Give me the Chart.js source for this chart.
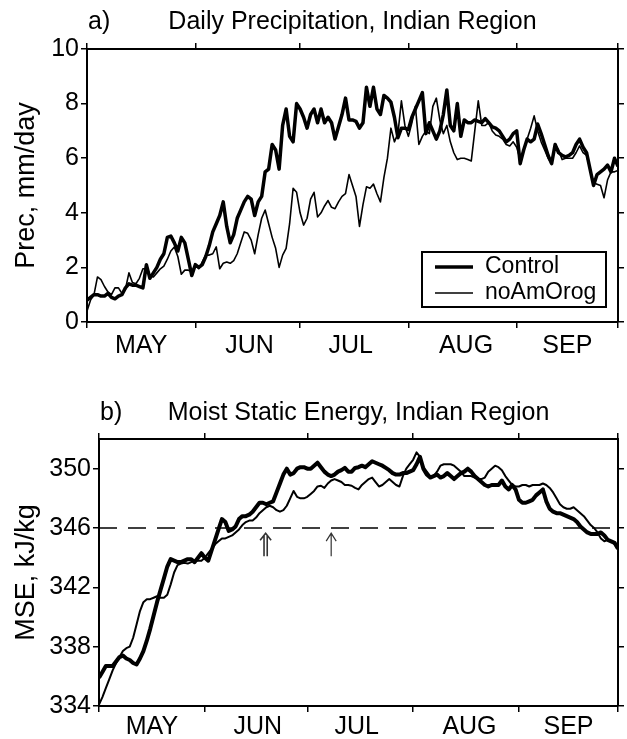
<!DOCTYPE html>
<html>
<head>
<meta charset="utf-8">
<script src="https://cdn.jsdelivr.net/npm/chart.js@4.4.1/dist/chart.umd.min.js"></script>
<style>
  body { margin: 0; background: #fff; }
  canvas { display: block; }
</style>
</head>
<body>
<canvas id="precChart" width="627" height="370"></canvas>
<canvas id="mseChart" width="627" height="369"></canvas>
<script>
// day index: 0 = 1 May ... 152 = 30 Sep
const days = Array.from({ length: 153 }, (_, i) => i);
const months = ['MAY', 'JUN', 'JUL', 'AUG', 'SEP'];
// label positions chosen so the offset tick marks fall on the month boundaries
const monthLabelDays = [15.5, 46.5, 75.5, 108.5, 137.5];
const precTicks = [0, 2, 4, 6, 8, 10];
const mseTicks = [334, 338, 342, 346, 350];

const precControl = [
  0.8, 0.9, 1.0, 1.0, 0.95, 0.95, 1.05, 0.9, 0.85, 0.95,
  1.0, 1.25, 1.4, 1.35, 1.35, 1.3, 1.25, 2.1, 1.6, 1.8,
  2.0, 2.3, 2.5, 3.1, 3.15, 2.9, 2.6, 3.1, 2.9, 2.3,
  1.7, 2.1, 2.0, 2.1, 2.4, 2.8, 3.3, 3.6, 3.9, 4.4,
  3.5, 2.9, 3.2, 3.8, 4.1, 4.4, 4.6, 4.5, 3.9, 4.4,
  4.6, 5.5, 5.6, 6.5, 6.3, 5.6, 7.2, 7.8, 6.8, 6.6,
  8.0, 7.8, 7.5, 7.1, 7.6, 7.8, 7.3, 7.8, 7.3, 7.5,
  7.3, 6.7, 7.15, 7.6, 8.2, 7.4, 7.4, 7.35, 7.1, 7.3,
  8.6, 7.9, 8.6, 7.8, 7.6, 8.3, 8.2, 8.05, 7.5, 6.75,
  7.1, 7.1, 7.05, 7.5, 7.8, 8.1, 8.4, 6.9, 7.3, 7.0,
  6.7, 7.0, 7.6, 8.5, 7.2, 7.0, 8.0, 6.8, 7.4, 7.3,
  7.3, 7.4, 7.35, 7.3, 7.45, 7.3, 7.15, 7.1, 7.0, 6.8,
  6.6, 6.7, 6.9, 7.0, 5.8, 6.3, 6.7, 6.6, 6.7, 7.25,
  6.9, 6.5, 6.1, 5.8, 6.5, 6.2, 6.1, 6.05, 6.1, 6.2,
  6.5, 6.7, 6.4, 6.2, 5.6, 5.0, 5.4, 5.5, 5.6, 5.75,
  5.5, 6.0, 5.7
];
const precNoAmOrog = [
  0.4, 0.8, 1.0, 1.65, 1.55, 1.3, 1.1, 1.0, 1.25, 1.25,
  1.05, 1.2, 1.8, 1.45, 1.4, 1.6, 1.95, 1.95, 1.7, 1.65,
  1.8, 1.95, 2.05, 2.3, 2.6, 2.75, 2.4, 1.75, 1.9, 1.9,
  1.85, 2.1, 1.95, 2.2, 2.45, 2.45, 2.5, 2.75, 1.95, 2.15,
  2.2, 2.15, 2.25, 2.5, 2.9, 3.3, 3.25, 3.0, 2.5, 3.2,
  3.8, 4.1, 3.6, 3.1, 2.7, 2.0, 2.45, 2.7, 3.6, 4.9,
  4.75, 4.0, 3.55, 3.8, 4.5, 4.75, 3.85, 4.0, 4.25, 4.45,
  4.2, 4.15, 4.4, 4.6, 4.7, 5.4, 5.0, 4.6, 3.5, 4.3,
  4.95, 4.9, 5.05, 4.7, 4.4, 5.3, 6.0, 7.1, 6.6, 6.9,
  8.1, 7.2, 6.8, 7.3, 7.9, 6.5, 6.8, 7.0, 6.9, 7.9,
  8.2, 7.4, 6.9, 7.2, 6.6, 6.2, 5.95, 6.0, 6.0, 5.95,
  5.9, 7.0, 8.1, 7.2, 7.2, 7.3, 7.0, 6.85, 6.8, 6.7,
  6.5, 6.45, 6.6, 6.4, 5.95, 6.3, 6.7, 7.1, 7.55, 7.0,
  6.6, 6.3, 6.0, 5.8, 6.5, 6.3, 5.95, 6.0, 6.0, 6.0,
  6.2, 6.45, 6.2, 6.1, 5.6, 5.1, 5.05, 5.0, 4.55, 5.2,
  5.5, 5.5, 5.55
];

const mseControl = [
  335.9, 336.3, 336.7, 336.7, 336.7, 337.0, 337.3, 337.4, 337.2, 337.1,
  336.9, 336.8, 337.2, 337.7, 338.4, 339.2, 340.1, 341.0, 341.8, 342.6,
  343.4, 343.9, 343.8, 343.7, 343.7, 343.8, 343.9, 343.9, 343.7, 344.0,
  344.3, 344.0, 343.8, 344.5, 345.2, 345.9, 346.6, 346.4, 345.8, 345.9,
  346.1, 346.6, 346.8, 346.8, 346.9, 347.1, 347.4, 347.7, 347.7, 347.6,
  347.7, 347.8, 348.4, 349.0, 349.6, 350.0, 349.6, 349.7, 350.0, 350.1,
  350.1, 350.0, 350.0, 350.2, 350.4, 350.1, 349.8, 349.6, 349.5, 349.6,
  349.8, 349.9, 350.05, 349.8, 349.8, 350.05, 350.1, 350.2, 350.1, 350.3,
  350.5, 350.4, 350.3, 350.2, 350.05, 349.9, 349.7, 349.6, 349.6, 349.7,
  349.7, 349.8, 349.9, 350.3, 350.8, 350.0, 349.6, 349.4, 349.5, 349.6,
  349.4, 349.5, 349.7, 349.5, 349.3, 349.5, 349.7, 349.8, 350.0, 349.8,
  349.5, 349.3, 349.1, 348.9, 348.8, 348.9, 348.9, 348.9, 349.2, 348.8,
  348.6, 348.9, 348.6, 347.9, 347.7, 347.7, 347.8, 347.9, 348.2, 348.4,
  348.6, 347.8, 347.3, 347.1, 347.0, 347.0, 346.9, 346.8, 346.7, 346.6,
  346.4, 346.1, 345.9, 345.7, 345.6, 345.6, 345.6, 345.7, 345.5, 345.2,
  345.1, 345.0, 344.6
];
const mseNoAmOrog = [
  334.1, 334.6, 335.2, 335.8, 336.4, 336.9, 337.3, 337.7, 337.9, 338.0,
  338.6, 339.5, 340.4, 341.0, 341.2, 341.2, 341.3, 341.4, 341.3, 341.3,
  341.5, 342.2, 343.0, 343.5, 343.6, 343.65, 343.6, 343.7, 343.8, 343.8,
  343.8, 344.0, 344.3, 344.6, 344.9, 345.1, 345.3, 345.3, 345.4, 345.5,
  345.7, 345.9, 346.2, 346.4, 346.5, 346.5, 346.7, 347.0, 347.2, 347.4,
  347.5, 347.4, 347.2, 347.1, 347.2, 347.5, 348.0, 348.5, 348.1, 348.0,
  348.0, 348.1, 348.3, 348.5, 348.8, 348.85, 348.7, 349.0, 349.2, 349.3,
  349.2, 349.1, 348.9, 348.9, 348.85, 348.7, 348.6, 348.9, 349.1, 349.3,
  349.4, 349.1, 348.8, 348.9, 349.1, 349.3, 349.1, 348.9, 348.8, 349.5,
  350.0, 350.3, 350.6, 351.1, 350.8, 350.1, 349.8, 349.5, 349.5, 349.8,
  350.2, 350.3, 350.3, 350.3, 350.2, 350.0, 349.8, 349.5, 349.5, 349.5,
  349.4, 349.3, 349.3, 349.4, 349.8, 350.0, 350.2, 350.1, 349.9, 349.5,
  349.2, 348.9, 348.8, 348.8, 348.9, 348.9, 348.8, 348.9, 348.9, 348.9,
  349.0, 348.9, 348.7, 348.4, 348.0, 347.6, 347.4, 347.3, 347.3, 347.4,
  347.2, 347.0, 346.8, 346.5, 346.2, 346.0, 345.7, 345.3, 345.1, 345.2,
  345.1, 344.9, 344.6
];
const mseThreshold = 346;
// onset arrows: day of crossing (Control, noAmOrog) and arrow span in kJ/kg
const onsetDays = [48.8, 68.0];
const arrowSpan = [344.1, 345.65];

const FONT = "'Liberation Sans', Arial, Helvetica, sans-serif";
Chart.defaults.font.family = FONT;
Chart.defaults.color = '#000';

const panelTitle = {
  id: 'panelTitle',
  afterDraw(chart, args, opts) {
    const { ctx, chartArea } = chart;
    const y = chartArea.top - opts.gap;
    ctx.save();
    ctx.fillStyle = '#000';
    ctx.font = '25px ' + FONT;
    ctx.textBaseline = 'alphabetic';
    ctx.textAlign = 'left';
    ctx.fillText(opts.tag, chartArea.left + 1, y);
    ctx.textAlign = 'center';
    ctx.fillText(opts.text, (chartArea.left + chartArea.right) / 2, y);
    ctx.restore();
  }
};

const boxLegend = {
  id: 'boxLegend',
  afterDatasetsDraw(chart) {
    const { ctx, chartArea } = chart;
    const w = 184, h = 55;
    const x0 = chartArea.right - 12 - w;
    const y0 = chartArea.bottom - 15 - h;
    ctx.save();
    ctx.fillStyle = '#fff';
    ctx.fillRect(x0, y0, w, h);
    ctx.strokeStyle = '#000';
    ctx.lineWidth = 2;
    ctx.strokeRect(x0, y0, w, h);
    ctx.font = '23px ' + FONT;
    ctx.textBaseline = 'middle';
    ctx.fillStyle = '#000';
    chart.data.datasets.forEach((ds, i) => {
      const y = y0 + 15 + i * 26;
      ctx.beginPath();
      ctx.lineWidth = ds.borderWidth;
      ctx.moveTo(x0 + 13, y);
      ctx.lineTo(x0 + 51, y);
      ctx.stroke();
      ctx.fillText(ds.label, x0 + 63, y);
    });
    ctx.restore();
  }
};

const onsetArrows = {
  id: 'onsetArrows',
  afterDatasetsDraw(chart) {
    const { ctx, scales: { x, y } } = chart;
    const yb = y.getPixelForValue(arrowSpan[0]);
    const yt = y.getPixelForValue(arrowSpan[1]);
    ctx.save();
    ctx.strokeStyle = '#333';
    onsetDays.forEach((d, i) => {
      const px = x.getPixelForValue(d);
      const double = i === 0;
      ctx.lineWidth = double ? 1.6 : 1.2;
      ctx.beginPath();
      if (double) {
        ctx.moveTo(px - 1.6, yb); ctx.lineTo(px - 1.6, yt + 2);
        ctx.moveTo(px + 1.6, yb); ctx.lineTo(px + 1.6, yt + 2);
        ctx.moveTo(px - 5.5, yt + 7); ctx.lineTo(px, yt); ctx.lineTo(px + 5.5, yt + 7);
      } else {
        ctx.moveTo(px, yb); ctx.lineTo(px, yt);
        ctx.moveTo(px - 5, yt + 8); ctx.lineTo(px, yt); ctx.lineTo(px + 5, yt + 8);
      }
      ctx.stroke();
    });
    ctx.restore();
  }
};

function monthTicks(axis) {
  axis.ticks = monthLabelDays.map(v => ({ value: v }));
}

function makeScales(o) {
  const frame = { display: true, color: '#000', width: 2 };
  const marks = { drawOnChartArea: false, color: '#000', tickLength: 6, lineWidth: 1.5 };
  const valueTicks = axis => { axis.ticks = o.ticks.map(v => ({ value: v })); };
  return {
    x: {
      type: 'linear', position: 'bottom', min: days[0], max: days[days.length - 1],
      afterBuildTicks: monthTicks,
      grid: { ...marks, offset: true },
      border: frame,
      ticks: { font: { size: 25 }, padding: o.xPad, maxRotation: 0, autoSkip: false,
               callback: (v, i) => months[i] },
      afterFit: s => { s.height = o.bottomH; }
    },
    xTop: {
      type: 'linear', position: 'top', min: days[0], max: days[days.length - 1],
      afterBuildTicks: monthTicks,
      grid: { ...marks, offset: true },
      border: frame,
      ticks: { display: false },
      afterFit: s => { s.height = o.topH; }
    },
    y: {
      position: 'left', min: o.min, max: o.max,
      afterBuildTicks: valueTicks,
      grid: marks,
      border: frame,
      ticks: { font: { size: 25 }, padding: 2 },
      title: { display: true, text: o.title, font: { size: 27 }, padding: { top: 10 } },
      afterFit: s => { s.width = o.leftW; }
    },
    yRight: {
      position: 'right', min: o.min, max: o.max,
      afterBuildTicks: valueTicks,
      grid: marks,
      border: frame,
      ticks: { display: false },
      afterFit: s => { s.width = 6; }
    }
  };
}

new Chart(document.getElementById('precChart'), {
  type: 'line',
  data: {
    labels: days,
    datasets: [
      { label: 'Control', data: precControl, borderColor: '#000', borderWidth: 3.5 },
      { label: 'noAmOrog', data: precNoAmOrog, borderColor: '#000', borderWidth: 1.6 }
    ]
  },
  options: {
    responsive: false,
    animation: false,
    devicePixelRatio: 1,
    layout: { padding: { left: 0, right: 3, top: 0, bottom: 0 } },
    elements: { point: { radius: 0 }, line: { tension: 0, borderJoinStyle: 'round' } },
    plugins: {
      legend: { display: false },
      tooltip: { enabled: false },
      panelTitle: { tag: 'a)', text: 'Daily Precipitation, Indian Region', gap: 20 }
    },
    scales: makeScales({ min: 0, max: 10, ticks: precTicks, title: 'Prec, mm/day',
                         leftW: 87, topH: 49, bottomH: 48, xPad: 3 })
  },
  plugins: [panelTitle, boxLegend]
});

new Chart(document.getElementById('mseChart'), {
  type: 'line',
  data: {
    labels: days,
    datasets: [
      { label: 'Control', data: mseControl, borderColor: '#000', borderWidth: 4 },
      { label: 'noAmOrog', data: mseNoAmOrog, borderColor: '#000', borderWidth: 2 },
      { label: 'threshold', data: [{ x: days[0], y: mseThreshold }, { x: days[days.length - 1], y: mseThreshold }],
        borderColor: '#000', borderWidth: 1.3, borderDash: [18, 11] }
    ]
  },
  options: {
    responsive: false,
    animation: false,
    devicePixelRatio: 1,
    layout: { padding: { left: 0, right: 3, top: 0, bottom: 0 } },
    elements: { point: { radius: 0 }, line: { tension: 0, borderJoinStyle: 'round' } },
    plugins: {
      legend: { display: false },
      tooltip: { enabled: false },
      panelTitle: { tag: 'b)', text: 'Moist Static Energy, Indian Region', gap: 19 }
    },
    scales: makeScales({ min: 334, max: 352, ticks: mseTicks, title: 'MSE, kJ/kg',
                         leftW: 99, topH: 69, bottomH: 33, xPad: 0 })
  },
  plugins: [panelTitle, onsetArrows]
});
</script>
</body>
</html>
